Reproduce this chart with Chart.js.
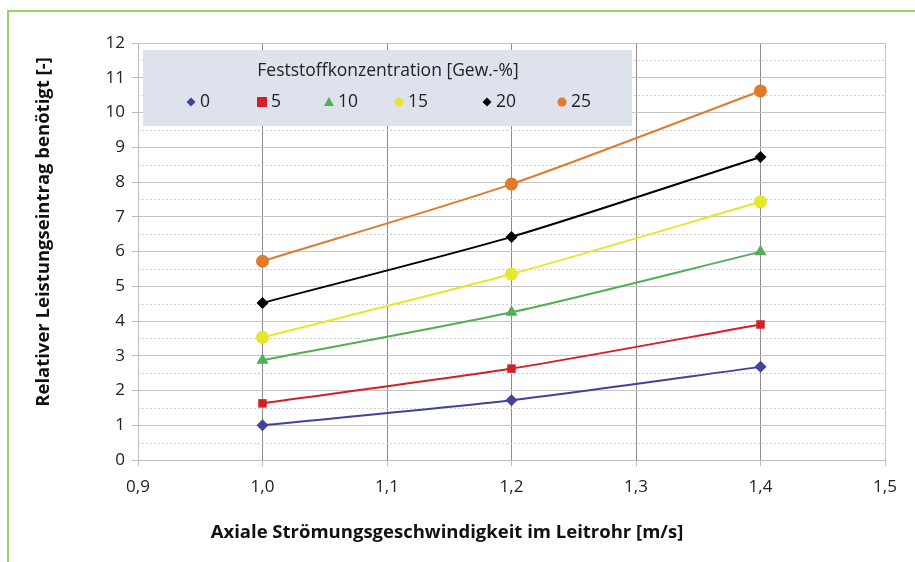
<!DOCTYPE html>
<html>
<head>
<meta charset="utf-8">
<script src="https://cdn.jsdelivr.net/npm/chart.js@4"></script>
<style>
  html, body { margin: 0; padding: 0; background: #fff; }
  #frame { position: absolute; left: 7px; top: 10px; width: 908px; height: 552px;
           border-top: 2px solid #9bd265; border-left: 2px solid #9bd265; }
  #wrap { position: absolute; left: 0; top: 0; width: 915px; height: 562px; }
</style>
</head>
<body>
<div id="frame"></div>
<div id="wrap"><canvas id="myChart" width="915" height="562"></canvas></div>
<script>
const speeds = [1.0, 1.2, 1.4];
const concentrations = ['0', '5', '10', '15', '20', '25'];
const values0 = [1.0, 1.72, 2.68];
const values5 = [1.63, 2.63, 3.9];
const values10 = [2.87, 4.25, 5.99];
const values15 = [3.53, 5.35, 7.43];
const values20 = [4.52, 6.42, 8.72];
const values25 = [5.72, 7.94, 10.62];
const xTicks = [0.9, 1.0, 1.1, 1.2, 1.3, 1.4, 1.5];
const yTicks = [0, 1, 2, 3, 4, 5, 6, 7, 8, 9, 10, 11, 12];

const seriesValues = [values0, values5, values10, values15, values20, values25];
const colors = ['#41419e', '#d22027', '#55ad55', '#e6e62c', '#000000', '#e07b2c'];
const markers = ['rectRot', 'rect', 'triangle', 'circle', 'rectRot', 'circle'];
const markerSizes = [6, 6, 7, 6.5, 6, 6.5];

const ctx = document.getElementById('myChart').getContext('2d');
const font = '"Open Sans", Lato, sans-serif';

const datasets = concentrations.map((c, i) => ({
    label: c,
    data: speeds.map((s, j) => ({ x: s, y: seriesValues[i][j] })),
    borderColor: colors[i],
    backgroundColor: colors[i],
    borderWidth: 2,
    pointStyle: markers[i],
    pointRadius: markerSizes[i],
    pointBorderWidth: 0,
    tension: 0.25
}));

// dotted half-step lines, legend box and axis titles
const decorations = {
    id: 'decorations',
    beforeDatasetsDraw(chart) {
        const c = chart.ctx;
        const area = chart.chartArea;
        const y = chart.scales.y;
        c.save();
        c.strokeStyle = '#cfcfcf';
        c.lineWidth = 1;
        c.setLineDash([2, 2]);
        for (let v = 0.5; v < 12; v += 1) {
            const py = Math.round(y.getPixelForValue(v)) + 0.5;
            c.beginPath();
            c.moveTo(area.left, py);
            c.lineTo(area.right, py);
            c.stroke();
        }
        c.setLineDash([]);

        // legend box
        const bx = 143, by = 50, bw = 489, bh = 76;
        c.fillStyle = '#dee2ec';
        c.fillRect(bx, by, bw, bh);
        c.fillStyle = '#222';
        c.font = '17.5px ' + font;
        c.textAlign = 'center';
        c.textBaseline = 'middle';
        c.fillText('Feststoffkonzentration [Gew.-%]', 388, 71);
        const mx = [191, 262, 329, 399, 487, 562];
        c.textAlign = 'left';
        concentrations.forEach((label, i) => {
            c.fillStyle = colors[i];
            c.beginPath();
            if (markers[i] === 'circle') c.arc(mx[i], 102, 4.5, 0, Math.PI * 2);
            else if (markers[i] === 'rect') c.rect(mx[i] - 5, 97, 10, 10);
            else if (markers[i] === 'triangle') { c.moveTo(mx[i], 97); c.lineTo(mx[i] + 5, 106); c.lineTo(mx[i] - 5, 106); c.closePath(); }
            else { c.moveTo(mx[i], 97.5); c.lineTo(mx[i] + 4.5, 102); c.lineTo(mx[i], 106.5); c.lineTo(mx[i] - 4.5, 102); c.closePath(); }
            c.fill();
            c.fillStyle = '#222';
            c.fillText(label, mx[i] + 9, 102);
        });
        c.restore();
    },
    afterDraw(chart) {
        const c = chart.ctx;
        c.save();
        c.fillStyle = '#111';
        c.font = 'bold 18.5px ' + font;
        c.textAlign = 'center';
        c.textBaseline = 'middle';
        c.fillText('Axiale Strömungsgeschwindigkeit im Leitrohr [m/s]', 447, 533);
        c.translate(44, 232);
        c.rotate(-Math.PI / 2);
        c.fillText('Relativer Leistungseintrag benötigt [-]', 0, 0);
        c.restore();
    }
};

new Chart(ctx, {
    type: 'line',
    data: { datasets: datasets },
    options: {
        responsive: false,
        animation: false,
        layout: { padding: { top: 43, right: 30, left: 0, bottom: 0 } },
        plugins: {
            legend: { display: false },
            tooltip: { enabled: false }
        },
        scales: {
            x: {
                type: 'linear',
                min: 0.9,
                max: 1.5,
                afterBuildTicks: axis => { axis.ticks = xTicks.map(v => ({ value: v })); },
                afterFit: axis => { axis.height = 102; },
                ticks: {
                    padding: 11,
                    color: '#222',
                    font: { family: font, size: 17 },
                    callback: v => v.toFixed(1).replace('.', ',')
                },
                grid: {
                    color: ctx => (ctx.tick && Math.abs(ctx.tick.value - 1.5) < 1e-6) ? '#c8c8c8' : '#8c8c8c',
                    tickLength: 6,
                    tickColor: '#bdbdbd'
                },
                border: { color: '#bdbdbd' }
            },
            y: {
                type: 'linear',
                min: 0,
                max: 12,
                afterBuildTicks: axis => { axis.ticks = yTicks.map(v => ({ value: v })); },
                afterFit: axis => { axis.width = 138; },
                ticks: {
                    padding: 7,
                    color: '#222',
                    font: { family: font, size: 17 }
                },
                grid: {
                    color: '#c4c4c4',
                    tickLength: 6,
                    tickColor: '#bdbdbd'
                },
                border: { color: '#bdbdbd' }
            }
        }
    },
    plugins: [decorations]
});
</script>
</body>
</html>
